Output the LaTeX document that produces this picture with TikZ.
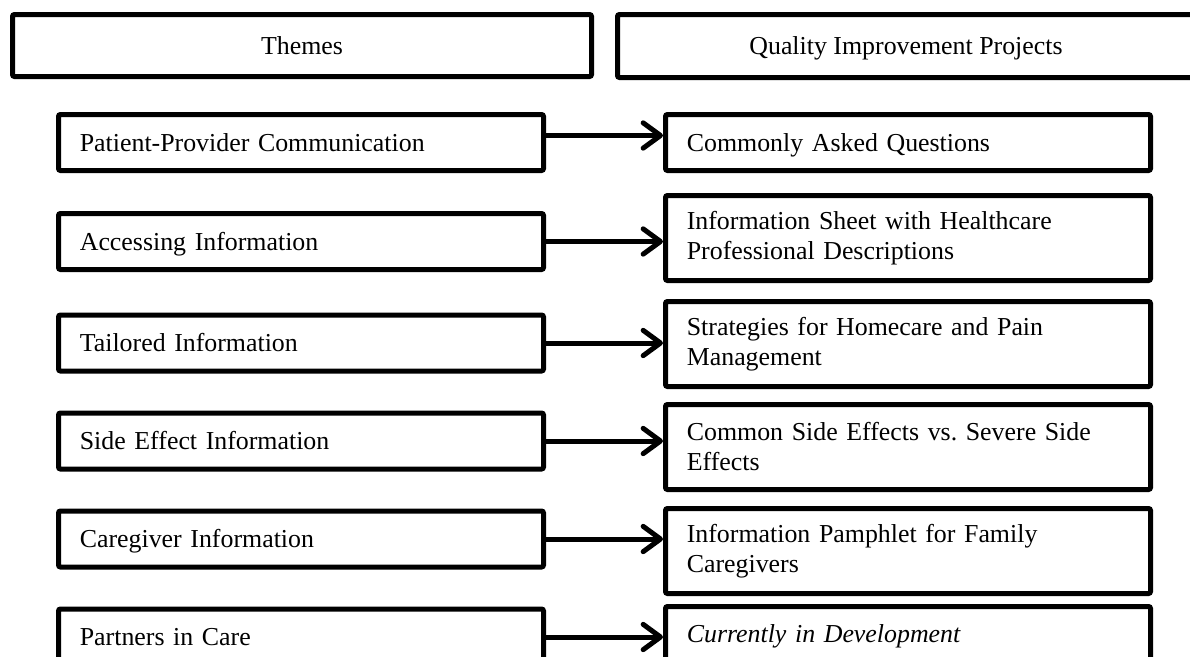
\documentclass[tikz,border=0pt]{standalone}
\usepackage{fontspec}
\setmainfont{Liberation Serif}
\usetikzlibrary{arrows.meta,calc}
\begin{document}
\begin{tikzpicture}[x=0.75pt,y=-0.75pt,
  every node/.style={font=\fontsize{19.4}{22.5}\selectfont},
  framebox/.style={draw,line width=3.75pt,rounded corners=1.5pt,inner ysep=0pt},
  headbox/.style={framebox,align=center,inner xsep=0pt,text height=12.85pt,text depth=0pt},
  itembox/.style={framebox,minimum width=363.75pt,text width=331.75pt,inner xsep=16pt,align=left},
  onebox/.style={itembox,minimum height=42pt,text height=12.85pt,text depth=0pt},
  twobox/.style={itembox,minimum height=63.75pt},
  link/.style={line width=3.75pt,-{Straight Barb[length=13pt,width=19pt,round]}}
]
\useasboundingbox (0,0) rectangle (1190,657);
\clip (0,0) rectangle (1190,657);

% headers
\node[headbox,minimum width=434.25pt,minimum height=46.5pt] (themes) at (302,45.5) {Themes};
\node[headbox,minimum width=432.75pt,minimum height=47.25pt] (qip) at (906,46) {Quality Improvement Projects};

% themes
\node[onebox] (t1) at (301,142.5) {Patient-Provider Communication};
\node[onebox] (t2) at (301,241.5) {Accessing Information};
\node[onebox] (t3) at (301,343) {Tailored Information};
\node[onebox] (t4) at (301,441) {Side Effect Information};
\node[onebox] (t5) at (301,539) {Caregiver Information};
\node[onebox] (t6) at (301,637) {Partners in Care};

% projects
\node[onebox] (p1) at (908,142.5) {Commonly Asked Questions};
\node[twobox] (p2) at (908,238) {Information Sheet with Healthcare\\Professional Descriptions};
\node[twobox] (p3) at (908,344) {Strategies for Homecare and Pain\\Management};
\node[twobox] (p4) at (908,447) {Common Side Effects vs.\ Severe Side\\Effects};
\node[twobox] (p5) at (908,551) {Information Pamphlet for Family\\Caregivers};
\node[twobox] (p6) at (908,649) {\itshape Currently in Development\\\mbox{}};

% arrows
\draw[link] ($(t1.east)+(0,-7)$) -- ($(t1.east -| p1.west)+(0,-7)$);
\foreach \i in {2,...,6}{
  \draw[link] (t\i.east) -- (t\i.east -| p\i.west);
}
\end{tikzpicture}
\end{document}
